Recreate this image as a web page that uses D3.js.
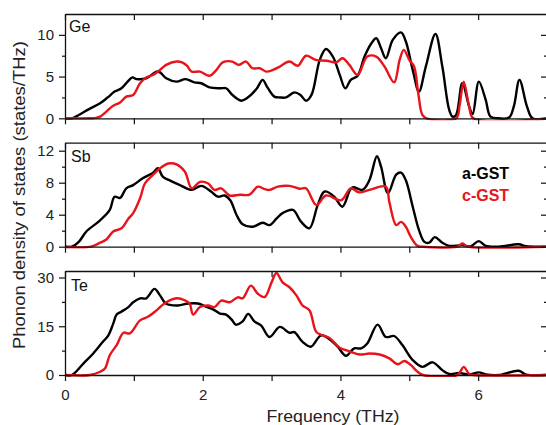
<!DOCTYPE html>
<html><head><meta charset="utf-8">
<script src="https://cdn.jsdelivr.net/npm/d3@7/dist/d3.min.js"></script>
<style>
html,body{margin:0;padding:0;background:#fff;}
svg{display:block;font-family:"Liberation Sans",Arial,sans-serif;}
</style></head>
<body><svg id="chart" width="546" height="425"></svg>
<script>
// ---------- data ----------
const seriesNames = ["a-GST", "c-GST"];
const panelNames = ["Ge", "Sb", "Te"];
const xTicks = [0, 1, 2, 3, 4, 5, 6, 7];
const xTickLabels = ["0", "", "2", "", "4", "", "6", ""];

const geTicks = [0, 5, 10], geMinor = [2.5, 7.5];
const sbTicks = [0, 4, 8, 12], sbMinor = [2, 6, 10];
const teTicks = [0, 15, 30], teMinor = [7.5, 22.5];

const geAFreq = [0,0.1,0.2,0.35,0.51,0.62,0.72,0.82,0.9,0.98,1.04,1.18,1.33,1.38,1.47,1.62,1.75,1.88,1.98,2.1,2.25,2.34,2.43,2.56,2.64,2.78,2.87,2.94,3.04,3.12,3.21,3.33,3.42,3.5,3.58,3.7,3.79,3.89,3.99,4.07,4.15,4.25,4.35,4.45,4.52,4.59,4.66,4.76,4.88,4.95,5.05,5.14,5.24,5.38,5.48,5.58,5.63,5.68,5.77,5.87,5.92,6.01,6.11,6.18,6.3,6.45,6.52,6.6,6.71,6.79,7];
const geAVal  = [0,0,0.4,1.1,1.8,2.5,3.2,3.6,4.3,4.9,4.7,4.8,5.6,5.5,4.8,4.4,4.7,4.3,4.2,3.7,3.6,3.6,2.8,2.1,2.4,3.5,4.6,3.7,2.6,2.5,2.5,3.1,2.8,2.1,2.8,7.0,8.3,7.4,5.2,3.6,4.6,5.1,7.4,9.0,9.6,8.4,7.2,9.4,10.3,9.2,5.8,3.2,6.2,10.1,6.2,1.0,0.2,0.4,4.2,1.4,0.5,4.4,2.2,0.2,0,0.1,1.5,4.6,1.4,0,0];
const geCFreq = [0,0.36,0.45,0.51,0.6,0.7,0.8,0.89,0.99,1.09,1.18,1.28,1.38,1.47,1.62,1.7,1.77,1.84,1.96,2.1,2.2,2.29,2.43,2.52,2.63,2.72,2.83,2.92,3.02,3.12,3.26,3.38,3.5,3.64,3.8,3.94,4.03,4.13,4.25,4.39,4.52,4.64,4.78,4.86,4.92,5.0,5.07,5.13,5.19,5.25,5.68,5.73,5.79,5.87,5.93,7];
const geCVal  = [0,0,0.05,0.2,0.8,1.5,1.9,2.6,2.8,4.2,4.9,5.2,5.8,6.4,6.8,6.7,6.3,5.6,5.6,5.1,5.8,6.7,6.8,6.4,6.8,6.0,6.0,5.6,5.8,6.2,6.8,6.3,7.5,7.0,6.9,6.7,7.2,6.4,5.2,7.4,7.4,6.2,4.3,7.0,8.2,7.0,6.2,3.0,0.4,0,0,1.5,4.4,1.4,0,0];

const sbAFreq = [0,0.1,0.2,0.31,0.51,0.65,0.72,0.8,0.89,0.99,1.13,1.28,1.35,1.42,1.52,1.67,1.84,1.98,2.12,2.22,2.32,2.4,2.49,2.58,2.73,2.87,2.97,3.07,3.16,3.31,3.43,3.55,3.67,3.77,3.91,4.03,4.17,4.32,4.42,4.53,4.59,4.69,4.81,4.88,4.95,5.05,5.14,5.22,5.29,5.37,5.48,5.58,5.77,5.89,6.01,6.11,6.3,6.59,6.7,7];
const sbAVal  = [0,0,0.6,1.9,3.3,4.6,6.25,6.1,7.3,7.7,8.55,9.25,9.8,8.75,8.3,7.7,7.1,7.6,6.9,6.25,6.4,5.8,4.0,2.8,2.5,3.0,2.7,3.5,4.2,4.6,3.1,2.3,5.2,6.9,6.25,5.0,7.4,7.1,8.3,11.3,10.0,6.7,9.0,9.25,8.3,5.0,2.1,0.6,0.5,1.2,0.5,0.1,0.2,0.05,0.7,0.1,0,0.3,0.05,0];
const sbCFreq = [0,0.38,0.51,0.6,0.7,0.82,0.92,0.99,1.09,1.16,1.28,1.38,1.5,1.62,1.74,1.84,1.96,2.08,2.17,2.27,2.39,2.54,2.68,2.8,2.9,2.97,3.09,3.26,3.41,3.5,3.65,3.79,4.01,4.15,4.27,4.42,4.66,4.71,4.81,4.88,4.95,5.02,5.12,5.2,5.7,5.77,5.85,7];
const sbCVal  = [0,0,0.5,0.9,1.9,2.3,3.5,4.2,6.05,7.9,9.0,9.8,10.4,10.3,9.4,7.3,8.1,7.9,7.1,7.3,6.4,6.5,6.5,7.5,7.2,7.1,7.5,7.6,7.25,7.3,5.2,6.4,5.8,7.3,6.8,7.1,7.5,5.6,2.7,3.1,2.5,1.25,0.1,0,0,0.4,0,0];

const teAFreq = [0,0.1,0.27,0.41,0.55,0.63,0.7,0.75,0.82,0.92,0.99,1.09,1.18,1.3,1.38,1.47,1.64,1.79,1.93,2.03,2.15,2.25,2.34,2.43,2.48,2.58,2.66,2.75,2.85,2.97,3.12,3.26,3.33,3.45,3.57,3.72,3.86,3.96,4.08,4.2,4.3,4.39,4.54,4.66,4.78,4.9,5.05,5.19,5.34,5.48,5.58,5.72,5.87,6.01,6.11,6.3,6.59,6.7,7];
const teAVal  = [0,0,3.6,6.6,10.2,12.2,15.8,18.6,19.5,20.9,22.4,23.6,23.6,26.5,24.5,21.9,21.4,22,22,21.2,20.2,18.9,18.6,16.8,15.5,16.5,18.8,16.5,15.2,11.7,14.8,13.0,13.2,10.2,8.7,12.2,10.7,8.7,5.9,8.2,8.2,9.7,15.5,11.7,12.0,9.2,4.6,2.5,3.9,1.5,0.3,0.6,0.2,0.8,0.2,0,1.3,0.1,0];
const teCFreq = [0,0.36,0.51,0.58,0.65,0.75,0.85,0.94,1.09,1.21,1.33,1.45,1.62,1.74,1.81,1.86,1.96,2.08,2.17,2.27,2.39,2.51,2.58,2.7,2.8,2.9,3.0,3.07,3.16,3.26,3.36,3.45,3.55,3.65,3.74,3.84,3.99,4.13,4.28,4.42,4.57,4.71,4.83,4.93,5.02,5.12,5.2,5.7,5.79,5.87,5.93,7];
const teCVal  = [0,0,1.0,2.0,6.1,9.2,13.0,12.8,16.8,18.0,19.9,22.1,23.6,23.0,22,18.6,20.9,21.4,20.9,22.9,22.4,23.9,23.6,27.5,25,24,28.5,31.4,28.5,27,24.5,21.4,19.9,13.2,12.2,11.4,8.4,7.3,6.3,6.6,6.3,5.1,3.3,4.3,3.1,1.0,0,0,2.5,0.3,0,0];

// ---------- layout ----------
const svg = d3.select("#chart");
const left = 65, right = 547;
const colors = ["#000000", "#e8141c"];
const x = d3.scaleLinear().domain([0, 7]).range([left, right]);

const panels = [
  {name: panelNames[0], top: 14, bottom: 118.3, ymax: 12.5, ticks: geTicks, minor: geMinor,
   series: [[geAFreq, geAVal], [geCFreq, geCVal]], lx: 69, ly: 31.5},
  {name: panelNames[1], top: 142.7, bottom: 246.7, ymax: 13, ticks: sbTicks, minor: sbMinor,
   series: [[sbAFreq, sbAVal], [sbCFreq, sbCVal]], lx: 71, ly: 161.5},
  {name: panelNames[2], top: 271, bottom: 375, ymax: 32, ticks: teTicks, minor: teMinor,
   series: [[teAFreq, teAVal], [teCFreq, teCVal]], lx: 71, ly: 291}
];

function styleAxis(g) {
  g.selectAll(".domain").attr("stroke", "#111").attr("stroke-width", 1.3);
  g.selectAll(".tick line").attr("stroke", "#111").attr("stroke-width", 1.2);
  g.selectAll(".tick text").attr("fill", "#222").style("font-size", "15px")
    .style("font-family", '"Liberation Sans", Arial, sans-serif');
}

panels.forEach((p, i) => {
  const y = d3.scaleLinear().domain([0, p.ymax]).range([p.bottom, p.top]);
  const isLast = i === panels.length - 1;

  // curves
  const line = d3.line().x(d => x(d[0])).y(d => y(d[1])).curve(d3.curveCatmullRom.alpha(0.5));
  const clipId = "clip" + i;
  svg.append("clipPath").attr("id", clipId).append("rect")
    .attr("x", left).attr("y", p.top - 2).attr("width", right - left).attr("height", p.bottom - p.top + 4);
  p.series.forEach((s, k) => {
    const pts = s[0].map((f, j) => [f, s[1][j]]);
    svg.append("path").datum(pts).attr("d", line)
      .attr("fill", "none").attr("stroke", colors[k]).attr("stroke-width", 2.4)
      .attr("stroke-linejoin", "round").attr("clip-path", `url(#${clipId})`);
  });

  // bottom axis
  const gb = svg.append("g").attr("transform", `translate(0,${p.bottom})`)
    .call(d3.axisBottom(x).tickValues(xTicks).tickSizeInner(6).tickSizeOuter(0).tickPadding(8)
      .tickFormat((d, j) => isLast ? xTickLabels[j] : ""));
  styleAxis(gb);
  // top axis (inward ticks)
  const gt = svg.append("g").attr("transform", `translate(0,${p.top})`)
    .call(d3.axisTop(x).tickValues(xTicks).tickSizeInner(-6).tickSizeOuter(0).tickFormat(""));
  styleAxis(gt);
  // left axis
  const gl = svg.append("g").attr("transform", `translate(${left},0)`)
    .call(d3.axisLeft(y).tickValues(p.ticks).tickSizeInner(6).tickSizeOuter(0).tickPadding(5).tickFormat(d3.format("d")));
  styleAxis(gl);
  const glm = svg.append("g").attr("transform", `translate(${left},0)`)
    .call(d3.axisLeft(y).tickValues(p.minor).tickSizeInner(3).tickSizeOuter(0).tickFormat(""));
  styleAxis(glm);
  glm.select(".domain").remove();
  // right axis (inward ticks)
  const gr = svg.append("g").attr("transform", `translate(${right},0)`)
    .call(d3.axisRight(y).tickValues(p.ticks).tickSizeInner(-6).tickSizeOuter(0).tickFormat(""));
  styleAxis(gr);
  const grm = svg.append("g").attr("transform", `translate(${right},0)`)
    .call(d3.axisRight(y).tickValues(p.minor).tickSizeInner(-3).tickSizeOuter(0).tickFormat(""));
  styleAxis(grm);
  grm.select(".domain").remove();

  // panel label
  svg.append("text").attr("x", p.lx).attr("y", p.ly).text(p.name)
    .style("font-size", "16px").attr("fill", "#111");
});

// legend
const legendY = [179, 201];
seriesNames.forEach((n, k) => {
  svg.append("text").attr("x", 462).attr("y", legendY[k]).text(n)
    .style("font-size", "16px").style("font-weight", "bold").attr("fill", colors[k]);
});

// axis titles
svg.append("text").attr("transform", "translate(25,195) rotate(-90)")
  .attr("text-anchor", "middle").style("font-size", "16.5px").attr("fill", "#222")
  .attr("textLength", 308).attr("lengthAdjust", "spacingAndGlyphs")
  .text("Phonon density of states (states/THz)");
svg.append("text").attr("x", 333).attr("y", 421.5)
  .attr("text-anchor", "middle").style("font-size", "16.5px").attr("fill", "#222")
  .attr("textLength", 133).attr("lengthAdjust", "spacingAndGlyphs")
  .text("Frequency (THz)");
</script>
</body></html>
